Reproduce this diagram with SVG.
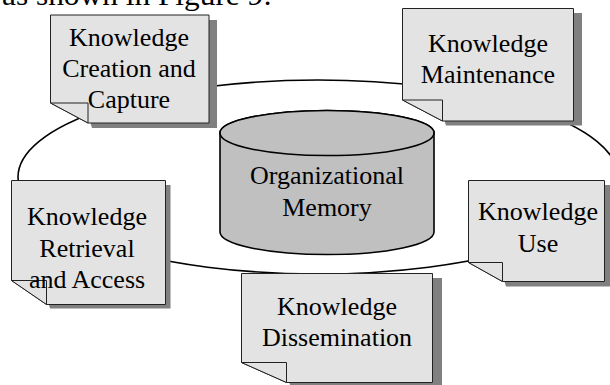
<svg xmlns="http://www.w3.org/2000/svg" width="610" height="385" viewBox="0 0 610 385">
<style>
.t{font-family:"Liberation Serif","Times New Roman",serif;font-size:26px;fill:#000;text-anchor:middle}
.box{fill:#e3e3e3;stroke:#222;stroke-width:1}
.fold{fill:#e3e3e3;stroke:#222;stroke-width:1}
.sh{fill:#808080}
.ring{fill:none;stroke:#000;stroke-width:1.6}
.cyl{fill:#c0c0c0;stroke:#000;stroke-width:1.6}
</style>
<rect width="610" height="385" fill="#fff"/>
<text x="2" y="5" font-family="Liberation Serif, serif" font-size="30" textLength="270" lengthAdjust="spacingAndGlyphs">as shown in Figure 9:</text>
<g id="connectors">
<ellipse class="ring" cx="318" cy="177" rx="300" ry="97"/>
</g>
<g id="memory">
<path class="cyl" d="M220,133 A107,22.5 0 0 1 434,133 V232 A107,22.5 0 0 1 220,232 Z"/>
<ellipse class="cyl" cx="327" cy="133" rx="107" ry="22.5"/>
<text class="t" x="327" y="184">Organizational</text>
<text class="t" x="327" y="216">Memory</text>
</g>
<g id="creation">
<path class="sh" d="M58.5,20 H217 V128 H92 Z"/>
<path class="box" d="M50.5,15 H209 V123 H88 L50.5,103 Z"/>
<path class="fold" d="M50.5,103 H88 V123 Z"/>
<text class="t" x="129" y="46">Knowledge</text>
<text class="t" x="129" y="77">Creation and</text>
<text class="t" x="129" y="108">Capture</text>
</g>
<g id="maintenance">
<path class="sh" d="M410.5,13 H582 V125.5 H446 Z"/>
<path class="box" d="M402.5,8.5 H573.5 V121 H442.5 L402.5,100 Z"/>
<path class="fold" d="M402.5,100 H442.5 V121 Z"/>
<text class="t" x="488" y="52">Knowledge</text>
<text class="t" x="488" y="83">Maintenance</text>
</g>
<g id="retrieval">
<path class="sh" d="M16.5,185 H170.5 V308.5 H50 Z"/>
<path class="box" d="M11.5,180.5 H165.5 V304.5 H46.5 L11.5,280.5 Z"/>
<path class="fold" d="M11.5,280.5 H46.5 V304.5 Z"/>
<text class="t" x="87" y="225">Knowledge</text>
<text class="t" x="87" y="256.5">Retrieval</text>
<text class="t" x="87" y="288">and Access</text>
</g>
<g id="use">
<path class="sh" d="M474.5,185 H610 V286.5 H506 Z"/>
<path class="box" d="M468.5,180.5 H604.5 V281.5 H502.5 L468.5,262.5 Z"/>
<path class="fold" d="M468.5,262.5 H502.5 V281.5 Z"/>
<text class="t" x="538" y="220">Knowledge</text>
<text class="t" x="538" y="251.5">Use</text>
</g>
<g id="dissemination">
<path class="sh" d="M250.5,278 H442 V390 H292 Z"/>
<path class="box" d="M241.5,273.5 H432.5 V382.5 H286.5 L241.5,362.5 Z"/>
<path class="fold" d="M241.5,362.5 H286.5 V382.5 Z"/>
<text class="t" x="337" y="315">Knowledge</text>
<text class="t" x="337" y="346">Dissemination</text>
</g>
</svg>
